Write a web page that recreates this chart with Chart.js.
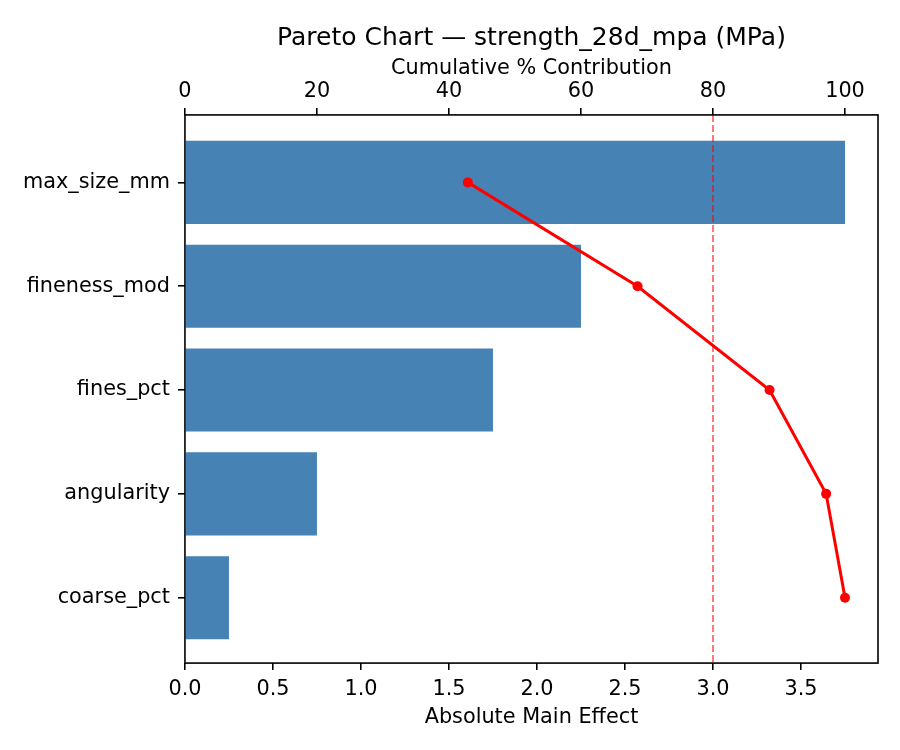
<!DOCTYPE html>
<html>
<head>
<meta charset="utf-8">
<script src="https://cdn.jsdelivr.net/npm/chart.js@4"></script>
<style>
  body { margin: 0; background: #fff; }
  #wrap { width: 900px; height: 750px; }
</style>
</head>
<body>
<div id="wrap"><canvas id="pareto"></canvas></div>
<script>
// factors, sorted by effect size
var factors = ["max_size_mm", "fineness_mod", "fines_pct", "angularity", "coarse_pct"];
var effects = [3.75, 2.25, 1.75, 0.75, 0.25];
var cumPct = [42.86, 68.57, 88.57, 97.14, 100.0];
var threshold = [80];
var effectTicks = [0, 0.5, 1.0, 1.5, 2.0, 2.5, 3.0, 3.5];
var pctTicks = [0, 20, 40, 60, 80, 100];

var FONT = "'DejaVu Sans', sans-serif";
var TICK = 20.8;
var yMin = -0.65, yMax = factors.length - 1 + 0.63;

var barPts = effects.map(function (v, i) { return { x: v, y: i }; });
var cumPts = cumPct.map(function (v, i) { return { x: v, y: i }; });
var thrPts = [{ x: threshold[0], y: yMin }, { x: threshold[0], y: yMax }];

// plain black frame round the plot area
var frame = {
    id: "frame",
    afterDraw: function (chart) {
        var a = chart.chartArea, c = chart.ctx;
        c.save();
        c.strokeStyle = "#000";
        c.lineWidth = 1.6;
        c.strokeRect(a.left, a.top, a.right - a.left, a.bottom - a.top);
        c.restore();
    }
};

function tickGrid() {
    return { drawOnChartArea: false, drawTicks: true, tickLength: 7, lineWidth: 1.6, color: "#000", offset: false };
}

new Chart(document.getElementById("pareto"), {
    data: {
        datasets: [
            {
                type: "line",
                data: thrPts,
                xAxisID: "x2",
                borderColor: "rgba(255,0,0,0.7)",
                borderWidth: 1.5,
                borderDash: [7, 3],
                pointRadius: 0,
                order: 0
            },
            {
                type: "line",
                data: cumPts,
                xAxisID: "x2",
                borderColor: "#ff0000",
                backgroundColor: "#ff0000",
                borderWidth: 3,
                pointRadius: 5,
                pointBorderWidth: 0,
                order: 1
            },
            {
                type: "bar",
                data: barPts,
                xAxisID: "x",
                backgroundColor: "#4682b4",
                barPercentage: 0.8,
                categoryPercentage: 1.0,
                order: 2
            }
        ]
    },
    options: {
        indexAxis: "y",
        responsive: true,
        maintainAspectRatio: false,
        animation: false,
        layout: { padding: { left: 15, right: 22, top: 0, bottom: 20 } },
        plugins: {
            legend: { display: false },
            tooltip: { enabled: false },
            title: {
                display: true,
                text: "Pareto Chart \u2014 strength_28d_mpa (MPa)",
                fullSize: false,
                color: "#000",
                font: { family: FONT, size: 25, weight: "normal" },
                padding: { top: 23, bottom: 3 }
            }
        },
        scales: {
            y: {
                type: "linear",
                reverse: true,
                offset: false,
                min: yMin,
                max: yMax,
                afterBuildTicks: function (axis) {
                    axis.ticks = factors.map(function (f, i) { return { value: i }; });
                },
                ticks: {
                    color: "#000",
                    font: { family: FONT, size: TICK },
                    padding: 8,
                    callback: function (v) { return factors[v]; }
                },
                grid: tickGrid(),
                border: { display: false }
            },
            x: {
                type: "linear",
                position: "bottom",
                min: 0,
                max: effects[0] * 1.05,
                afterBuildTicks: function (axis) {
                    axis.ticks = effectTicks.map(function (v) { return { value: v }; });
                },
                ticks: {
                    color: "#000",
                    font: { family: FONT, size: TICK },
                    padding: 7,
                    maxRotation: 0,
                    callback: function (v) { return v.toFixed(1); }
                },
                grid: tickGrid(),
                border: { display: false },
                title: {
                    display: true,
                    text: "Absolute Main Effect",
                    color: "#000",
                    font: { family: FONT, size: TICK },
                    padding: { top: -4, bottom: 0 }
                }
            },
            x2: {
                type: "linear",
                position: "top",
                min: 0,
                max: 105,
                afterBuildTicks: function (axis) {
                    axis.ticks = pctTicks.map(function (v) { return { value: v }; });
                },
                ticks: {
                    color: "#000",
                    font: { family: FONT, size: TICK },
                    padding: 4,
                    maxRotation: 0
                },
                grid: tickGrid(),
                border: { display: false },
                title: {
                    display: true,
                    text: "Cumulative % Contribution",
                    color: "#000",
                    font: { family: FONT, size: TICK },
                    padding: { top: 0, bottom: -6 }
                }
            }
        }
    },
    plugins: [frame]
});
</script>
</body>
</html>
